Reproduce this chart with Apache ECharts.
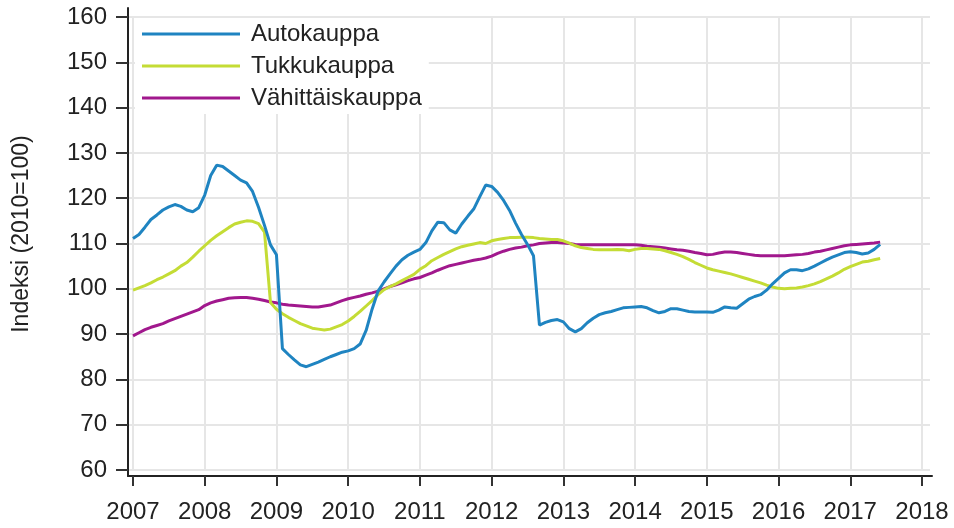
<!DOCTYPE html>
<html>
<head>
<meta charset="utf-8">
<script src="https://cdn.jsdelivr.net/npm/echarts@6/dist/echarts.min.js"></script>
<style>html,body{margin:0;padding:0;background:#fff}#c{width:954px;height:528px}</style>
</head>
<body>
<div id="c"></div>
<script>
// Monthly data, January 2007 - June 2017
const startYear = 2007;
const seriesNames = ['Autokauppa', 'Tukkukauppa', 'Vähittäiskauppa'];
const yearTicks = [2007, 2008, 2009, 2010, 2011, 2012, 2013, 2014, 2015, 2016, 2017, 2018];
const yTicks = [60, 70, 80, 90, 100, 110, 120, 130, 140, 150, 160];

const autokauppa = [
  111.1, 112.0, 113.6, 115.3, 116.3, 117.4, 118.1, 118.6, 118.2, 117.4, 117.0, 117.9,
  120.7, 125.0, 127.3, 127.0, 126.0, 125.0, 124.0, 123.4, 121.5, 118.0, 114.0, 109.7,
  107.5, 86.8, 85.5, 84.3, 83.2, 82.8, 83.3, 83.8, 84.4, 85.0, 85.5, 86.0,
  86.3, 86.8, 87.8, 90.8, 95.5, 99.5, 101.5, 103.3, 105.0, 106.4, 107.4, 108.1,
  108.7, 110.2, 112.8, 114.7, 114.6, 113.0, 112.3, 114.3, 116.0, 117.6, 120.3, 122.9,
  122.6, 121.3, 119.5, 117.3, 114.5, 112.0, 109.8, 107.3, 92.0, 92.6, 93.0, 93.2,
  92.7, 91.2, 90.5, 91.2, 92.5, 93.5, 94.3, 94.7, 95.0, 95.4, 95.8, 95.9,
  96.0, 96.1, 95.8, 95.2, 94.7, 95.0, 95.6, 95.6, 95.3, 95.0, 94.9, 94.9,
  94.9, 94.8, 95.3, 96.0, 95.8, 95.7, 96.7, 97.7, 98.3, 98.7, 99.7, 101.1,
  102.3, 103.5, 104.2, 104.2, 104.0, 104.4, 105.0, 105.7, 106.4, 107.0, 107.5, 108.0,
  108.2, 108.0, 107.7, 107.9, 108.7, 109.8
];
const tukkukauppa = [
  99.7, 100.2, 100.7, 101.3, 102.0, 102.6, 103.3, 104.0, 105.0, 105.8, 107.0, 108.3,
  109.5, 110.7, 111.7, 112.6, 113.5, 114.3, 114.7, 115.0, 114.9, 114.4, 112.5, 97.0,
  95.5, 94.5, 93.7, 93.0, 92.3, 91.8, 91.3, 91.1, 90.9, 91.1, 91.6, 92.1,
  92.9, 93.9, 95.0, 96.2, 97.4, 98.7, 99.8, 100.5, 101.1, 101.8, 102.5, 103.2,
  104.3, 105.1, 106.2, 106.9, 107.6, 108.2, 108.8, 109.3, 109.6, 109.9, 110.2, 110.0,
  110.6, 110.9, 111.1, 111.3, 111.3, 111.4, 111.4, 111.3, 111.1, 111.0, 110.9, 110.9,
  110.6, 110.1, 109.5, 109.1, 108.9, 108.7, 108.6, 108.6, 108.6, 108.7, 108.6, 108.4,
  108.7, 108.9, 108.9, 108.8, 108.7, 108.4, 108.0, 107.6, 107.1, 106.5, 105.8, 105.2,
  104.6, 104.2, 103.9, 103.6, 103.3, 102.9, 102.5, 102.1, 101.7, 101.3, 100.8, 100.4,
  100.1, 100.0, 100.1, 100.2, 100.4, 100.7, 101.1, 101.6, 102.2, 102.8, 103.5, 104.3,
  104.9, 105.4, 105.9, 106.1, 106.4, 106.7
];
const vahittaiskauppa = [
  89.6, 90.3, 91.0, 91.5, 91.9, 92.3, 92.9, 93.4, 93.9, 94.4, 94.9, 95.4,
  96.3, 96.9, 97.3, 97.6, 97.9, 98.0, 98.1, 98.1, 97.9, 97.7, 97.4, 97.1,
  96.9, 96.6, 96.4, 96.3, 96.2, 96.1, 96.0, 96.0, 96.2, 96.4, 96.9, 97.4,
  97.8, 98.1, 98.4, 98.8, 99.1, 99.5, 100.0, 100.5, 100.9, 101.3, 101.8, 102.2,
  102.5, 103.0, 103.5, 104.1, 104.6, 105.1, 105.4, 105.7, 106.0, 106.3, 106.5, 106.8,
  107.2, 107.8, 108.3, 108.7, 109.0, 109.2, 109.5, 109.7, 110.0, 110.1, 110.2, 110.2,
  110.1, 110.0, 109.8, 109.7, 109.7, 109.7, 109.7, 109.7, 109.7, 109.7, 109.7, 109.7,
  109.7, 109.6, 109.4, 109.3, 109.2, 109.0, 108.8, 108.6, 108.5, 108.3, 108.0, 107.8,
  107.5, 107.6, 107.9, 108.1, 108.1, 108.0, 107.8, 107.6, 107.4, 107.3, 107.3, 107.3,
  107.3, 107.3, 107.4, 107.5, 107.6, 107.8, 108.1, 108.3, 108.6, 108.9, 109.2, 109.5,
  109.7, 109.8, 109.9, 110.0, 110.1, 110.3
];
const colors = ['#1f84c1', '#c4dc35', '#a1188d'];

function toPoints(arr) {
  return arr.map((v, i) => [startYear + i / 12, v]);
}

const FONT = 'Liberation Sans, Arial, sans-serif';
const TXT = '#222';
const chart = echarts.init(document.getElementById('c'), null, { renderer: 'canvas' });

const option = {
  animation: false,
  backgroundColor: '#fff',
  textStyle: { fontFamily: FONT },
  grid: [
    { left: 133, right: 32, top: 17, bottom: 58 },      // data grid
    { left: 128, right: 24, top: 17, bottom: 58 },      // horizontal grid lines
    { left: 128, right: 22, top: 8, bottom: 52 }        // axis lines
  ],
  xAxis: [
    {
      gridIndex: 0, type: 'value', min: yearTicks[0], max: yearTicks[yearTicks.length - 1], interval: 1,
      offset: 6,
      axisLine: { show: false },
      axisTick: { show: true, length: 10, lineStyle: { color: '#333', width: 2 } },
      axisLabel: { margin: 24, fontSize: 24, color: TXT, fontFamily: FONT, formatter: v => String(v) },
      splitLine: { show: true, lineStyle: { color: '#e6e6e6', width: 2 } }
    },
    { gridIndex: 1, type: 'value', min: 0, max: 1, show: false },
    {
      gridIndex: 2, type: 'value', min: 0, max: 1,
      axisLine: { show: true, lineStyle: { color: '#222', width: 2 } },
      axisTick: { show: false }, axisLabel: { show: false }, splitLine: { show: false }
    }
  ],
  yAxis: [
    {
      gridIndex: 0, type: 'value', min: yTicks[0], max: yTicks[yTicks.length - 1], interval: 10,
      offset: 5,
      axisLine: { show: false },
      axisTick: { show: true, length: 12, lineStyle: { color: '#333', width: 2 } },
      axisLabel: { margin: 21, fontSize: 24, color: TXT, fontFamily: FONT },
      splitLine: { show: false }
    },
    {
      gridIndex: 1, type: 'value', min: yTicks[0], max: yTicks[yTicks.length - 1], interval: 10,
      axisLine: { show: false }, axisTick: { show: false }, axisLabel: { show: false },
      splitLine: { show: true, lineStyle: { color: '#e6e6e6', width: 2 } }
    },
    {
      gridIndex: 2, type: 'value', min: 0, max: 1,
      axisLine: { show: true, lineStyle: { color: '#222', width: 2 } },
      axisTick: { show: false }, axisLabel: { show: false }, splitLine: { show: false }
    }
  ],
  legend: {
    orient: 'vertical',
    left: 135, top: 18,
    padding: [4, 7, 4, 7],
    backgroundColor: '#fff',
    itemWidth: 98, itemHeight: 3, itemGap: 8,
    icon: 'rect',
    textStyle: { fontSize: 24, color: TXT, fontFamily: FONT, lineHeight: 24, padding: [0, 0, 0, 6] },
    data: seriesNames
  },
  graphic: [{
    type: 'text',
    x: 22, y: 234,
    rotation: Math.PI / 2,
    style: { text: 'Indeksi (2010=100)', font: '23px ' + FONT, fill: TXT, textAlign: 'center', textVerticalAlign: 'middle' }
  }],
  series: [autokauppa, tukkukauppa, vahittaiskauppa].map((arr, k) => ({
    name: seriesNames[k],
    type: 'line',
    xAxisIndex: 0, yAxisIndex: 0,
    data: toPoints(arr),
    showSymbol: false,
    symbol: 'none',
    lineStyle: { width: 3, color: colors[k] },
    itemStyle: { color: colors[k] },
    z: 3 - k + 2
  }))
};
chart.setOption(option);
</script>
</body>
</html>
